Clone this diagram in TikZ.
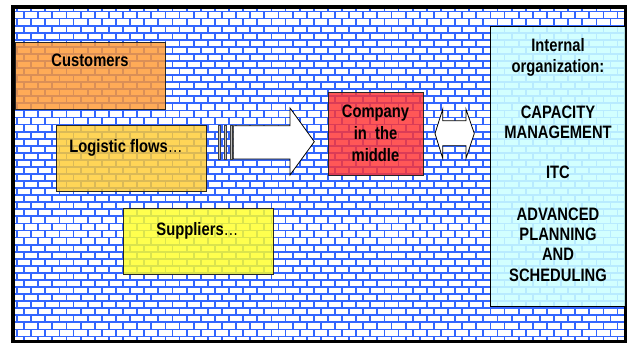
\documentclass[tikz,border=0pt]{standalone}
\usepackage{fontspec}
\setmainfont{Liberation Sans}[FakeStretch=0.82]
\definecolor{mortar}{RGB}{51,102,255}
\definecolor{custfill}{RGB}{255,153,51}
\definecolor{flowfill}{RGB}{255,204,51}
\definecolor{suppfill}{RGB}{255,255,40}
\definecolor{compfill}{RGB}{255,51,51}
\definecolor{orgfill}{RGB}{204,255,255}
\begin{document}
\begin{tikzpicture}[x=1pt,y=-1pt,
  mortarline/.style={draw=mortar, line width=1.8pt},
  box/.style={draw=black!85, line width=0.9pt, fill opacity=0.82, inner sep=0pt, anchor=north west},
  lbl/.style={font=\bfseries\fontsize{18}{21}\selectfont, inner sep=0pt, anchor=base},
  blockarrow/.style={draw=black, line width=0.8pt, fill=white, line join=miter},
  stripe/.style={draw=black!75, line width=0.5pt, fill=black!25}]
\useasboundingbox (0,0) rectangle (629,343);
\fill[white] (0,0) rectangle (629,343);

% brick wall background
\begin{scope}
  \clip (15,9) rectangle (624,340);
  \foreach \k in {-1,...,47} {
    \pgfmathsetmacro\ya{11.5+7.065*\k}
    \draw[mortarline] (15,\ya) -- (624,\ya);
    \pgfmathsetmacro\xo{10+7.065*mod(\k+2,2)}
    \draw[mortarline] foreach \j in {0,...,44} {({\xo+14.13*\j},\ya) -- ++(0,7.065)};
  }
\end{scope}

% frame
\draw[line width=3.6pt] (13,6.8) rectangle (625.6,341.6);

% boxes
\node[box, fill=custfill, minimum width=150, minimum height=67] (customers) at (15,42) {};
\node[box, fill=flowfill, minimum width=150, minimum height=66] (flows) at (56,125) {};
\node[box, fill=suppfill, minimum width=150, minimum height=66] (suppliers) at (123,208) {};
\node[box, fill=compfill, minimum width=95, minimum height=83] (company) at (328,92) {};
\node[box, draw=black, line width=1.3pt, fill=orgfill, fill opacity=0.87, minimum width=135, minimum height=280] (org) at (490,26) {};

% labels
\node[lbl] (custtxt) at (90,66.7) {Customers};
\node[lbl] (flowtxt) at (126,152.7) {Logistic flows{\mdseries …}};
\node[lbl] (supptxt) at (197.5,235) {Suppliers{\mdseries …}};
\foreach \t/\y [count=\n] in {Company/117.3, in\ \ the/139, middle/161}
  \node[lbl] (comp\n) at (375.5,\y) {\t};
\foreach \t/\y [count=\n] in {Internal/51.5, organization:/72.5, CAPACITY/118.3, MANAGEMENT/138.3, ITC/178.3, ADVANCED/220.5, PLANNING/240.5, AND/260.5, SCHEDULING/281.5}
  \node[lbl] (org\n) at (558,\y) {\t};

% striped arrow from the flows towards the company
\foreach \x [count=\n] in {218.3,224,230}
  \draw[stripe] (\x,125.7) rectangle ++(2.4,33.3);
\draw[blockarrow] (233.3,125.7) -- (290,125.7) -- (290,108) -- (314.3,141.7)
  -- (290,175) -- (290,159) -- (233.3,159) -- cycle;

% two-way arrow between company and internal organization
\draw[blockarrow] (435,133.5) -- (442.7,109.3) -- (442.7,120.7) -- (466,120.7)
  -- (466,109.3) -- (474.3,133.5) -- (466,158.3) -- (466,145.7)
  -- (442.7,145.7) -- (442.7,158.3) -- cycle;
\end{tikzpicture}
\end{document}
